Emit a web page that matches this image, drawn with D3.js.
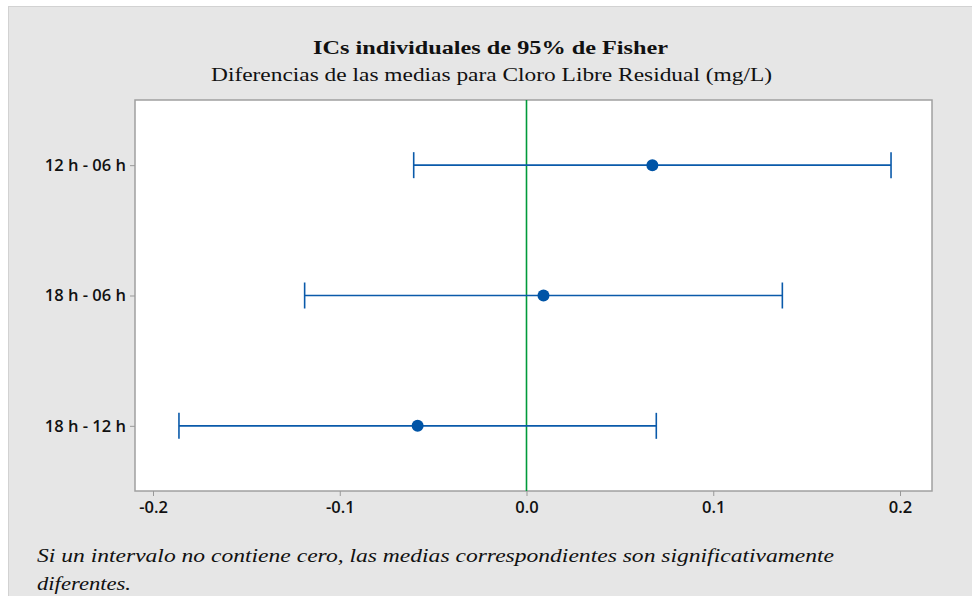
<!DOCTYPE html>
<html><head><meta charset="utf-8">
<script src="https://cdn.jsdelivr.net/npm/d3@7"></script>
<style>body{margin:0;background:#fff}svg{display:block}
.tk text{font-family:'Open Sans',sans-serif;font-size:16.5px;font-weight:600;fill:#111}</style>
</head><body>
<script>
const categories = ["12 h - 06 h", "18 h - 06 h", "18 h - 12 h"];
const estimates = [0.0674, 0.0091, -0.0583];
const lowers = [-0.0604, -0.1188, -0.1861];
const uppers = [0.1952, 0.1370, 0.0695];
const xTicks = [-0.2, -0.1, 0.0, 0.1, 0.2];
const title = "ICs individuales de 95% de Fisher";
const subtitle = "Diferencias de las medias para Cloro Libre Residual (mg/L)";
const note1 = "Si un intervalo no contiene cero, las medias correspondientes son significativamente";
const note2 = "diferentes.";

const W = 972, H = 596;
const svg = d3.select("body").append("svg").attr("width", W).attr("height", H);
svg.append("rect").attr("x", 8.5).attr("y", 6.5).attr("width", W).attr("height", H)
  .attr("fill", "#e6e6e6").attr("stroke", "#d2d2d2");

const m = {l: 135, r: 932, t: 100, b: 491};
const x = d3.scaleLinear().domain([-0.2, 0.2]).range([153, 900]);
const y = d3.scalePoint().domain(categories).range([m.t, m.b]).padding(0.5);

svg.append("rect").attr("x", m.l).attr("y", m.t).attr("width", m.r - m.l).attr("height", m.b - m.t)
  .attr("fill", "#fff").attr("stroke", "#a0a0a0").attr("stroke-width", 1.5);

// axes
const fmt = d => d3.format(".1f")(d).replace("\u2212", "-");
const xAxis = svg.append("g").attr("class", "tk").attr("transform", `translate(0,${m.b})`)
  .call(d3.axisBottom(x).tickValues(xTicks).tickFormat(fmt).tickSize(5).tickSizeOuter(0));
xAxis.select(".domain").remove();
xAxis.selectAll("line").attr("stroke", "#999");
xAxis.selectAll("text").attr("y", 10).attr("dy", "0.71em");

const yAxis = svg.append("g").attr("class", "tk").attr("transform", `translate(${m.l},0)`)
  .call(d3.axisLeft(y).tickSize(5).tickSizeOuter(0));
yAxis.select(".domain").remove();
yAxis.selectAll("line").attr("stroke", "#999");
yAxis.selectAll("text").attr("x", -9);

// zero line
svg.append("line").attr("x1", x(0)).attr("x2", x(0)).attr("y1", m.t).attr("y2", m.b)
  .attr("stroke", "#009a3a").attr("stroke-width", 1.6);

const blue = "#0a5aaa";
const rows = categories.map((c, i) => ({c, est: estimates[i], lo: lowers[i], hi: uppers[i]}));
const g = svg.append("g");
g.selectAll(".ci").data(rows).join("line")
  .attr("x1", d => x(d.lo)).attr("x2", d => x(d.hi))
  .attr("y1", d => y(d.c)).attr("y2", d => y(d.c))
  .attr("stroke", blue).attr("stroke-width", 1.6);
["lo", "hi"].forEach(k => {
  g.selectAll(".cap" + k).data(rows).join("line")
    .attr("x1", d => x(d[k])).attr("x2", d => x(d[k]))
    .attr("y1", d => y(d.c) - 13).attr("y2", d => y(d.c) + 13)
    .attr("stroke", blue).attr("stroke-width", 1.6);
});
g.selectAll("circle").data(rows).join("circle")
  .attr("cx", d => x(d.est)).attr("cy", d => y(d.c)).attr("r", 6).attr("fill", "#0054a6");

const serif = "'Liberation Serif', 'Times New Roman', serif";
function txt(s, xx, yy, fs, len, opts = {}) {
  const t = svg.append("text").attr("x", xx).attr("y", yy)
    .attr("font-family", serif).attr("fill", "#111")
    .style("font-size", fs + "px").text(s);
  if (opts.anchor) t.attr("text-anchor", opts.anchor);
  if (opts.bold) t.attr("font-weight", "bold");
  if (opts.italic) t.attr("font-style", "italic");
  if (len) t.attr("textLength", len).attr("lengthAdjust", "spacingAndGlyphs");
  return t;
}
txt(title, 490.5, 54, 19.5, 355, {anchor: "middle", bold: true});
txt(subtitle, 491.5, 81, 19.5, 561, {anchor: "middle"});
txt(note1, 37, 562, 19.5, 797, {italic: true});
txt(note2, 37, 590, 19.5, 94, {italic: true});
</script>
</body></html>
